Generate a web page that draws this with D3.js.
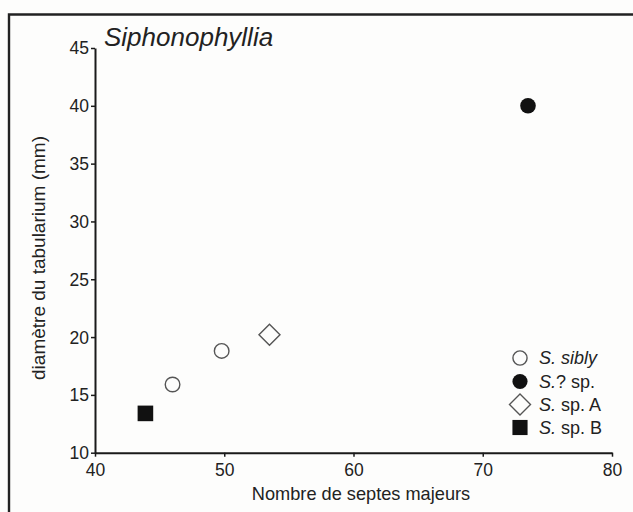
<!DOCTYPE html>
<html><head><meta charset="utf-8">
<script src="https://cdn.jsdelivr.net/npm/d3@7"></script>
<style>body{margin:0;background:#fdfdfc;}svg{display:block;font-family:"Liberation Sans",Arial,sans-serif;}</style>
</head><body>
<svg id="c" width="633" height="512"></svg>
<script>
const xTicks = [40, 50, 60, 70, 80];
const yTicks = [10, 15, 20, 25, 30, 35, 40, 45];
const sibly = [[46.0, 15.9], [49.8, 18.8]];
const spQ = [[73.5, 40.0]];
const spA = [[53.5, 20.2]];
const spB = [[43.9, 13.4]];
const legendLabels = [
  {it: "S.", rest: " sibly", restItalic: true},
  {it: "S.", rest: "? sp.", restItalic: false},
  {it: "S.", rest: " sp. A", restItalic: false},
  {it: "S.", rest: " sp. B", restItalic: false}
];

const svg = d3.select("#c");
svg.append("rect").attr("width",633).attr("height",512).attr("fill","#fdfdfc");
svg.append("path").attr("d","M9,520 V14.5 H640").attr("fill","none").attr("stroke","#222").attr("stroke-width",2.4);

const x = d3.scaleLinear().domain([40,80]).range([95,612]);
const y = d3.scaleLinear().domain([10,45]).range([452.7,48]);

const gx = svg.append("g").attr("transform","translate(0,452.7)")
  .call(d3.axisBottom(x).tickValues(xTicks).tickSize(4).tickSizeOuter(0).tickPadding(7));
const gy = svg.append("g").attr("transform","translate(95,0)")
  .call(d3.axisLeft(y).tickValues(yTicks).tickSize(4).tickSizeOuter(0).tickPadding(2));
[gx,gy].forEach(g=>{
  g.select(".domain").attr("stroke","#1a1a1a").attr("stroke-width",2);
  g.selectAll(".tick line").attr("stroke","#1a1a1a").attr("stroke-width",1.5);
  g.selectAll("text").attr("font-size",17.5).attr("fill","#222").attr("font-family","Liberation Sans, Arial, sans-serif");
});
gy.selectAll("text").attr("dy","0.34em");

svg.append("text").attr("x",361).attr("y",500).attr("text-anchor","middle").attr("font-size",18.2).attr("fill","#222").text("Nombre de septes majeurs");
svg.append("text").attr("transform","translate(45,258) rotate(-90)").attr("text-anchor","middle").attr("font-size",19).attr("fill","#222").text("diamètre du tabularium (mm)");
svg.append("text").attr("x",104).attr("y",46).attr("font-size",26).attr("font-style","italic").attr("fill","#222").text("Siphonophyllia");

const sym = {
  circle: (g, cx, cy, s) => g.append("circle").attr("cx",cx).attr("cy",cy).attr("r",7.3*s).attr("fill","#fdfdfc").attr("stroke","#555").attr("stroke-width",1.4),
  dot: (g, cx, cy, s) => g.append("circle").attr("cx",cx).attr("cy",cy).attr("r",7.8*s).attr("fill","#111"),
  diamond: (g, cx, cy, s) => g.append("path").attr("d",`M${cx},${cy-10.5*s} L${cx+10.5*s},${cy} L${cx},${cy+10.5*s} L${cx-10.5*s},${cy} Z`).attr("fill","#fdfdfc").attr("stroke","#555").attr("stroke-width",1.4),
  square: (g, cx, cy, s) => g.append("rect").attr("x",cx-7.8*s).attr("y",cy-7.8*s).attr("width",15.6*s).attr("height",15.6*s).attr("fill","#111")
};
const pts = svg.append("g");
sibly.forEach(d=>sym.circle(pts,x(d[0]),y(d[1]),1));
spQ.forEach(d=>sym.dot(pts,x(d[0]),y(d[1]),1));
spA.forEach(d=>sym.diamond(pts,x(d[0]),y(d[1]),1));
spB.forEach(d=>sym.square(pts,x(d[0]),y(d[1]),1));

const leg = svg.append("g");
const types = ["circle","dot","diamond","square"];
const rowsY = [358, 381.5, 404.5, 427.5];
types.forEach((t,i)=>{
  sym[t](leg, 520, rowsY[i], t==="diamond"?1:0.97);
  const tx = leg.append("text").attr("x",539).attr("y",rowsY[i]).attr("dy","0.36em").attr("font-size",18).attr("fill","#222");
  tx.append("tspan").attr("font-style","italic").text(legendLabels[i].it);
  tx.append("tspan").attr("font-style",legendLabels[i].restItalic?"italic":"normal").text(legendLabels[i].rest);
});
</script>
</body></html>
